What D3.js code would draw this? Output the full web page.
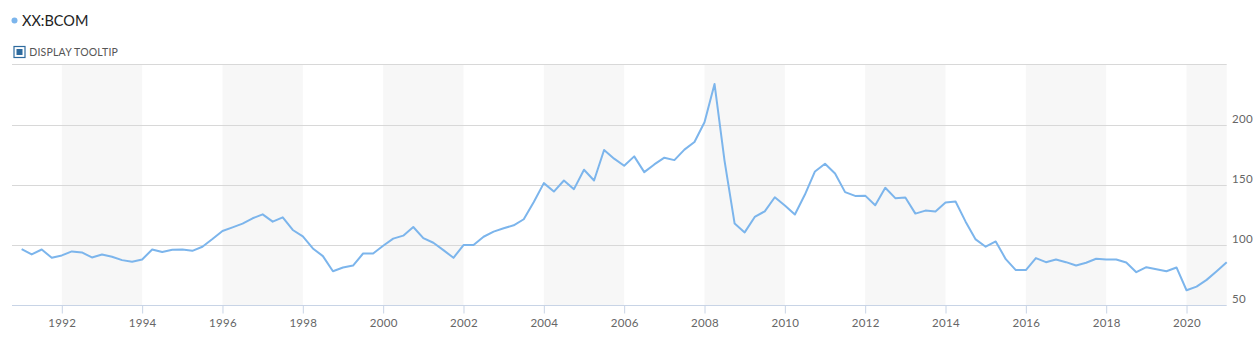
<!DOCTYPE html>
<html>
<head>
<meta charset="utf-8">
<script src="https://cdn.jsdelivr.net/npm/d3@7"></script>
<style>
  html, body { margin: 0; padding: 0; background: #fff; }
  svg { display: block; font-family: Lato, "Open Sans", sans-serif; }
</style>
</head>
<body>
<div id="chart"></div>
<script>
// quarterly closes, first point = 1991 Q1
var startYear = 1991;
var values = [
  96.7, 92.2, 96.3, 89.4,   // 1991
  91.4, 94.7, 93.9, 89.7,   // 1992
  92.2, 90.3, 87.5, 86.1,   // 1993
  88.0, 96.3, 94.2, 96.1,   // 1994
  96.3, 95.2, 98.6, 105.0,  // 1995
  111.7, 114.7, 117.8, 122.2, // 1996
  125.5, 119.4, 123.0, 112.5, // 1997
  107.2, 97.2, 90.8, 78.3,  // 1998
  81.4, 83.0, 93.0, 93.0,   // 1999
  99.4, 105.3, 107.8, 115.0, // 2000
  105.8, 101.9, 95.8, 89.4, // 2001
  100.0, 100.0, 106.9, 111.1, // 2002
  113.9, 116.4, 121.4, 135.8, // 2003
  151.4, 144.4, 153.6, 146.4, // 2004
  162.5, 153.6, 178.9, 171.7, // 2005
  165.8, 173.6, 160.5, 166.9, // 2006
  172.5, 170.5, 179.2, 185.5, // 2007
  201.9, 233.6, 169.7, 117.8, // 2008
  110.5, 123.3, 128.0, 139.7, // 2009
  132.8, 125.3, 141.9, 161.1, // 2010
  167.5, 159.4, 143.9, 140.8, // 2011
  141.0, 133.0, 147.5, 138.9, // 2012
  139.4, 126.1, 128.6, 127.8, // 2013
  135.3, 136.1, 119.4, 104.7, // 2014
  98.6, 103.0, 88.3, 79.2,  // 2015
  79.2, 89.2, 85.8, 88.0,   // 2016
  85.8, 83.0, 85.3, 88.6,   // 2017
  88.0, 88.0, 85.5, 77.5,   // 2018
  81.6, 80.0, 78.3, 81.4,   // 2019
  62.5, 65.5, 71.1, 78.3,   // 2020
  85.8                      // 2021
];
var xTicks = [1992, 1994, 1996, 1998, 2000, 2002, 2004, 2006, 2008, 2010, 2012, 2014, 2016, 2018, 2020];
var yTicks = [50, 100, 150, 200, 250];
var yLabels = [50, 100, 150, 200];
var bands = [[1992, 1994], [1996, 1998], [2000, 2002], [2004, 2006], [2008, 2010], [2012, 2014], [2016, 2018], [2020, 2021]];
var title = "XX:BCOM";

var W = 1259, H = 354;
var plot = {left: 12, right: 1226.7, top: 64.3, bottom: 305.3};

var data = values.map(function(v, i){ return {t: startYear + i * 0.25, v: v}; });

var x = d3.scaleLinear().domain([1990.76, 2021]).range([plot.left, plot.right]);
var y = d3.scaleLinear().domain([50, 250]).range([plot.bottom, plot.top]);

var svg = d3.select("#chart").append("svg")
    .attr("width", W)
    .attr("height", H);

// header
svg.append("circle")
    .attr("cx", 14.5)
    .attr("cy", 20.5)
    .attr("r", 3)
    .style("fill", "#7cb5ec");

svg.append("text")
    .attr("x", 22)
    .attr("y", 25.5)
    .style("font-size", "14.5px")
    .style("fill", "#222")
    .text(title);

svg.append("rect")
    .attr("x", 14)
    .attr("y", 46.5)
    .attr("width", 11)
    .attr("height", 11)
    .style("fill", "#fff")
    .style("stroke", "#2e6b9e")
    .style("stroke-width", 1.2);

svg.append("rect")
    .attr("x", 16.5)
    .attr("y", 49)
    .attr("width", 6)
    .attr("height", 6)
    .style("fill", "#2e6b9e");

svg.append("text")
    .attr("x", 29.3)
    .attr("y", 55.5)
    .style("font-size", "10.5px")
    .style("fill", "#555")
    .style("letter-spacing", "0.2px")
    .text("DISPLAY TOOLTIP");

// alternating bands
svg.append("g")
    .attr("class", "bands")
    .selectAll("rect")
    .data(bands).enter()
  .append("rect")
    .attr("x", d=>x(d[0]))
    .attr("y", plot.top)
    .attr("width", d=>x(d[1]) - x(d[0]))
    .attr("height", plot.bottom - plot.top)
    .style("fill", "#f7f7f7");

// horizontal grid
svg.append("g")
    .attr("class", "grid")
    .selectAll("line")
    .data(yTicks.slice(1)).enter()
  .append("line")
    .attr("x1", plot.left)
    .attr("x2", plot.right)
    .attr("y1", d=>Math.round(y(d)) + 0.5)
    .attr("y2", d=>Math.round(y(d)) + 0.5)
    .style("stroke", "#d8d8d8")
    .style("stroke-width", 1);

// x axis
var xAxis = svg.append("g")
    .attr("class", "xaxis")
    .attr("transform", "translate(0," + (Math.round(plot.bottom) + 0.5) + ")")
    .call(d3.axisBottom(x).tickValues(xTicks).tickFormat(d3.format("d")).tickSize(8).tickPadding(5));

xAxis.select(".domain")
    .attr("d", "M" + plot.left + ",0H" + plot.right)
    .style("stroke", "#c8d4e6");

xAxis.selectAll("line")
    .style("stroke", "#c8d4e6");

xAxis.selectAll("text")
    .style("font-family", "Lato, sans-serif")
    .style("font-size", "11.5px")
    .style("fill", "#666")
    .style("letter-spacing", "0.3px");

// y labels on the right
svg.append("g")
    .attr("class", "ylabels")
    .selectAll("text")
    .data(yLabels).enter()
  .append("text")
    .attr("x", 1232)
    .attr("y", d=>y(d) - 2)
    .style("font-size", "11.5px")
    .style("fill", "#666")
    .style("letter-spacing", "0.3px")
    .text(d=>d);

// series
var line = d3.line()
    .x(d=>x(d.t))
    .y(d=>y(d.v));

svg.append("path")
    .datum(data)
    .attr("class", "series")
    .attr("d", line)
    .style("fill", "none")
    .style("stroke", "#7cb5ec")
    .style("stroke-width", 2)
    .style("stroke-linejoin", "round");
</script>
</body>
</html>
